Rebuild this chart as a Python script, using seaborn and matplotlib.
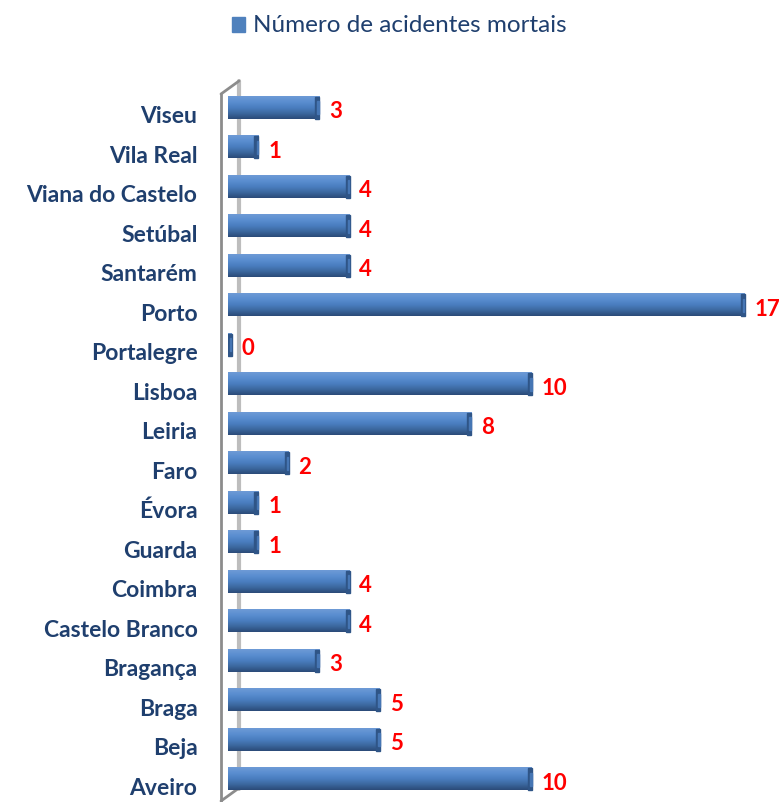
import numpy as np
import pandas as pd
import seaborn as sns
import matplotlib.pyplot as plt
import matplotlib.transforms as mtransforms
from matplotlib.lines import Line2D
from matplotlib.patches import Rectangle
from matplotlib.colors import LinearSegmentedColormap

# data, top to bottom as in the chart
distritos = ['Viseu', 'Vila Real', 'Viana do Castelo', 'Setúbal', 'Santarém', 'Porto',
             'Portalegre', 'Lisboa', 'Leiria', 'Faro', 'Évora', 'Guarda', 'Coimbra',
             'Castelo Branco', 'Bragança', 'Braga', 'Beja', 'Aveiro']
acidentes = [3, 1, 4, 4, 4, 17, 0, 10, 8, 2, 1, 1, 4, 4, 3, 5, 5, 10]
serie = 'Número de acidentes mortais'

df = pd.DataFrame({'Distrito': distritos, 'Acidentes': acidentes})

sns.set_style("white")
plt.rcParams['font.family'] = ['Lato', 'DejaVu Sans']

W, H = 784, 803
fig = plt.figure(figsize=(W / 100, H / 100), dpi=100)
ax = fig.add_axes([228 / W, (H - 800) / H, 547 / W, 711 / H])
ax.patch.set_visible(False)

sns.barplot(data=df, x='Acidentes', y='Distrito', orient='h', color='#4F81BD',
            width=0.56, ax=ax, saturation=1)

# cylinder shading: gradient over each bar (light top, dark bottom)
cmap = LinearSegmentedColormap.from_list('cyl', ['#2B4B78', '#3C689F', '#4A7EC0', '#5A8ED0', '#6E9AD6'])
grad = np.linspace(0, 1, 64).reshape(-1, 1)
for p in ax.patches[:]:
    x0, y0 = p.get_x(), p.get_y()
    w, h = p.get_width(), p.get_height()
    wd = max(w, 0.12)
    ax.imshow(grad, cmap=cmap, aspect='auto', extent=[x0, x0 + wd, y0, y0 + h],
              origin='upper', zorder=3)
    # end cap
    ax.add_patch(Rectangle((x0 + wd - 0.13, y0), 0.13, h, color='#2F5587', zorder=4))
    ax.add_patch(Rectangle((x0 + wd - 0.06, y0 + h * 0.2), 0.05, h * 0.6,
                           color='#4676B4', zorder=5))
    p.set_visible(False)

ax.set_xlim(0, 18)
ax.set_ylim(17.5, -0.5)

# value labels
for i, v in enumerate(acidentes):
    ax.text(max(v, 0.12) + 0.32, i + 0.08, str(v), color='#FF0000', fontsize=16,
            fontweight='bold', va='center', ha='left', clip_on=False)

ax.set_xlabel('')
ax.set_ylabel('')
ax.set_xticks([])
ax.set_yticks(range(len(distritos)))
ax.set_yticklabels(distritos, fontsize=16.5, fontweight='bold', color='#1F3F6E')
ax.tick_params(axis='y', length=0, pad=22)
shift = mtransforms.ScaledTranslation(0, -6 / 100, fig.dpi_scale_trans)
for lab in ax.get_yticklabels():
    lab.set_transform(lab.get_transform() + shift)
for s in ax.spines.values():
    s.set_visible(False)

# 3D wall lines (behind the axes content)
def fl(xs, ys, c='#9A9A9A', lw=2.2, z=-1):
    fig.add_artist(Line2D([x / W for x in xs], [1 - y / H for y in ys], color=c, lw=lw, zorder=z))

fl([239, 239], [82, 790], c='#BDBDBD', lw=3)
fl([221, 221], [95, 803], c='#8C8C8C', lw=2)
fl([221, 239], [95, 82], c='#8C8C8C', lw=2)
fl([221, 239], [802, 789], c='#8C8C8C', lw=2)

# legend
fig.patches.append(Rectangle((232 / W, 1 - 33 / H), 13 / W, 15 / H, transform=fig.transFigure,
                             color='#4F81BD'))
fig.text(253 / W, 1 - 26 / H, serie, fontsize=17.5, color='#1F3F6E', va='center', ha='left')

fig.savefig('out.png', dpi=100)
